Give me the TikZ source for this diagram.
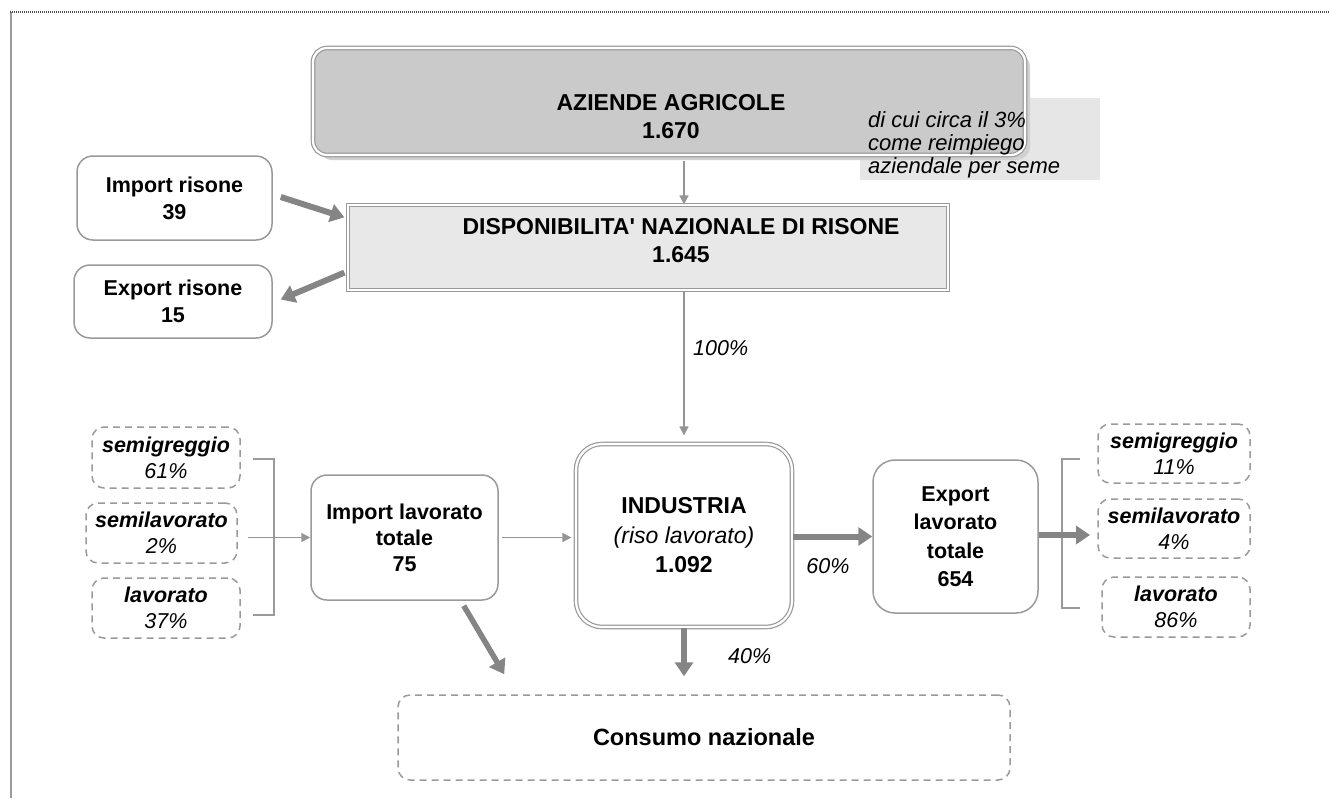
\documentclass[tikz,border=0pt]{standalone}
\usepackage{fontspec}
\setmainfont{Liberation Sans}
\usetikzlibrary{arrows.meta,calc}
\definecolor{bordergray}{HTML}{9A9A9A}
\definecolor{thingray}{HTML}{959595}
\definecolor{thickgray}{HTML}{858585}
\definecolor{boxgray}{HTML}{CACACA}
\definecolor{lightfill}{HTML}{E8E8E8}
\definecolor{notefill}{HTML}{E6E6E6}
\begin{document}
\begin{tikzpicture}[x=1pt,y=-1pt,
  every node/.style={align=center, inner sep=0pt},
  txt/.style={font=\fontsize{21.5}{27}\selectfont\bfseries},
  bigtxt/.style={font=\fontsize{23}{28}\selectfont\bfseries},
  rbox/.style={draw=bordergray, line width=1.5pt, rounded corners=16pt, fill=white},
  dbox/.style={draw=bordergray, line width=1.5pt, dash pattern=on 7pt off 5pt, rounded corners=12pt},
  dblbox/.style={draw=bordergray, line width=1.2pt, double=white, double distance=2.2pt},
  thinarr/.style={draw=thingray, line width=1.6pt, -{Triangle[length=9pt,width=9pt]}},
  thickarr/.style={draw=thickgray, line width=6pt, -{Triangle[length=14pt,width=18pt]}},
  bracketline/.style={draw=bordergray, line width=1.5pt},
  pct/.style={font=\fontsize{21.5}{26}\selectfont\itshape}]
\useasboundingbox (0,0) rectangle (1330,798);
% page frame
\draw[bordergray, line width=2pt] (11,12) -- (11,798);
\draw[black!70, line width=1.5pt, dash pattern=on 1pt off 1pt] (10,12) -- (1330,12);

% note background
\node[fill=notefill, minimum width=240pt, minimum height=82pt, anchor=north west] (notebg) at (860,98) {};
% AZIENDE AGRICOLE
\fill[black!18, rounded corners=14pt] (318,53) rectangle (1030,160);
\node[dblbox, fill=boxgray, rounded corners=14pt, minimum width=712pt, minimum height=107pt] (azi) at (669,101.5) {};
\node[bigtxt] (azit) at (671,117) {AZIENDE AGRICOLE\\1.670};
\node[anchor=north west, align=left, font=\fontsize{22}{23}\selectfont\itshape] (note) at (868,111) {di cui circa il 3\%\\come reimpiego\\aziendale per seme};

% DISPONIBILITA
\node[dblbox, fill=lightfill, minimum width=600pt, minimum height=85pt] (disp) at (648,247.5) {};
\node[bigtxt] (dispt) at (681,241) {DISPONIBILITA\textquotesingle{} NAZIONALE DI RISONE\\1.645};

% import / export risone
\node[rbox, minimum width=195pt, minimum height=84pt, txt] (impr) at (174.5,198) {Import risone\\39};
\node[rbox, minimum width=198pt, minimum height=73pt, txt] (expr) at (173,301.5) {Export risone\\15};

% INDUSTRIA
\node[dblbox, rounded corners=26pt, fill=white, minimum width=216pt, minimum height=183pt, bigtxt, font=\fontsize{23}{29.5}\selectfont\bfseries] (ind) at (684,535.5) {INDUSTRIA\\{\mdseries\itshape (riso lavorato)}\\1.092};

% Import lavorato
\node[rbox, minimum width=187pt, minimum height=125pt, txt, font=\fontsize{21.5}{26}\selectfont\bfseries] (imp) at (404.5,537.5) {Import lavorato\\totale\\75};

% Export lavorato
\node[rbox, rounded corners=22pt, minimum width=165pt, minimum height=153pt, txt, font=\fontsize{21.5}{28.5}\selectfont\bfseries] (exp) at (955.5,536.5) {Export\\lavorato\\totale\\654};

% Consumo
\node[dbox, minimum width=612pt, minimum height=85pt, font=\fontsize{23.5}{28}\selectfont\bfseries] (cons) at (704,737.5) {Consumo nazionale};

% left dashed boxes
\node[dbox, minimum width=148pt, minimum height=61pt, pct] (ls1) at (166,457.5) {\bfseries semigreggio\\61\%};
\node[dbox, minimum width=151pt, minimum height=60pt, pct] (ls2) at (161.5,533) {\bfseries semilavorato\\2\%};
\node[dbox, minimum width=148pt, minimum height=60pt, pct] (ls3) at (166,608) {\bfseries lavorato\\37\%};

% right dashed boxes
\node[dbox, minimum width=152pt, minimum height=59pt, pct] (rs1) at (1174,453.5) {\bfseries semigreggio\\11\%};
\node[dbox, minimum width=152pt, minimum height=59pt, pct] (rs2) at (1174,528.5) {\bfseries semilavorato\\4\%};
\node[dbox, minimum width=148pt, minimum height=60pt, pct] (rs3) at (1176,607) {\bfseries lavorato\\86\%};

% brackets
\coordinate (lbt) at (253,459); \coordinate (lbb) at (253,615);
\draw[bracketline] (lbt) -- ++(21,0) -- ++(0,156) -- (lbb);
\coordinate (rbt) at (1080,459); \coordinate (rbb) at (1080,608);
\draw[bracketline] (rbt) -- ++(-18,0) -- ++(0,149) -- (rbb);

% connectors
\draw[thinarr, shorten <=5pt] (ind.north |- azi.south) -- (ind.north |- disp.north);
\draw[thickarr] ($(impr.east)+(8,-1)$) -- ($(disp.north west)+(-3,13)$);
\draw[thickarr] ($(disp.south west)+(-3,-18)$) -- ($(expr.east)+(8,-2)$);
\draw[thinarr, shorten >=8pt] (ind.north |- disp.south) -- (ind.north);
\node[pct, anchor=west] (p100) at (693,348) {100\%};

\coordinate (lbarr) at (248,537.5);
\draw[thinarr] (lbarr) -- (imp.west);
\draw[thinarr, shorten <=3pt, shorten >=4pt] (imp.east) -- (imp.east -| ind.west);
\draw[thickarr, line width=5.5pt] ($(imp.south east)+(-35,5)$) -- ($(cons.north west)+(107,-20)$);
\draw[thickarr, shorten >=18pt] (ind.south) -- (ind.south |- cons.north);
\node[pct, anchor=west] (p40) at (728,656) {40\%};
\draw[thickarr] (ind.east |- exp.west) -- (exp.west);
\node[pct] (p60) at (828,566) {60\%};
\coordinate (rbarr) at (1090,535);
\draw[thickarr] (exp.east |- rbarr) -- (rbarr);
\end{tikzpicture}
\end{document}
